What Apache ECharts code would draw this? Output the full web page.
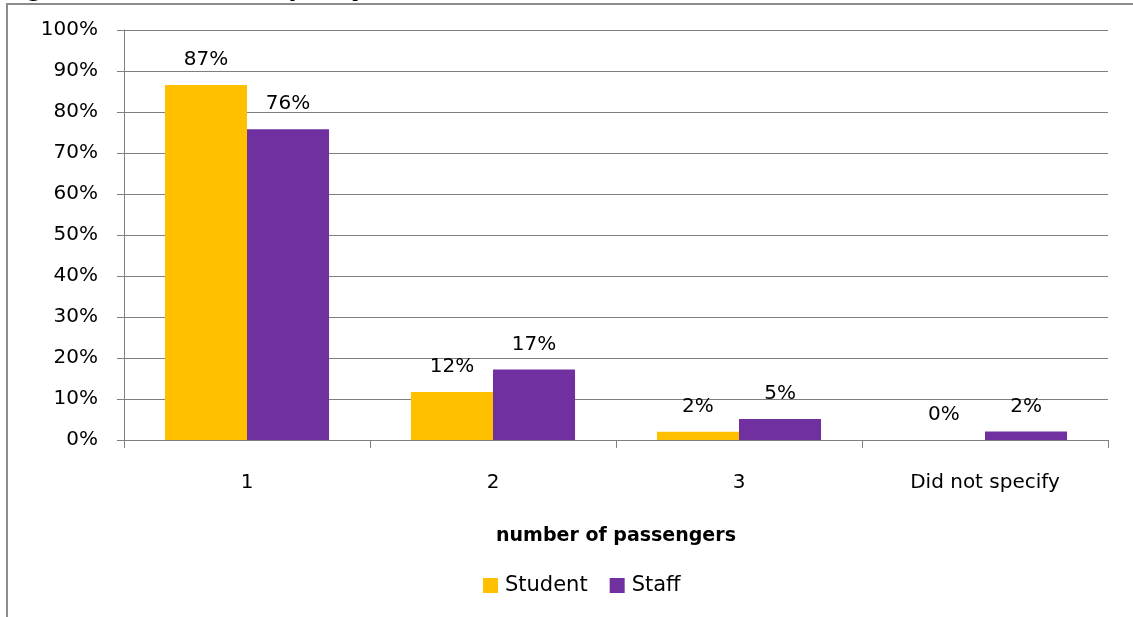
<!DOCTYPE html>
<html>
<head>
<meta charset="utf-8">
<script src="https://cdn.jsdelivr.net/npm/echarts@6/dist/echarts.min.js"></script>
<style>
  html, body { margin: 0; padding: 0; background: #fff; }
  #chart { width: 1133px; height: 617px; }
</style>
</head>
<body>
<div id="chart"></div>
<script>
// Share of trips by number of passengers, students vs staff (percent)
const categories = ['1', '2', '3', 'Did not specify'];
const studentValues = [86.6, 11.7, 2.0, 0];
const staffValues = [75.8, 17.2, 5.1, 2.1];
const seriesNames = ['Student', 'Staff'];
const axisTitle = 'number of passengers';
const chartTitle = 'Figure 9: Vehicle occupancy';

const FONT = '"DejaVu Sans", sans-serif';
const GRID_GRAY = '#7f7f7f';

const chart = echarts.init(document.getElementById('chart'), null, { renderer: 'canvas' });

const barLabel = {
  show: true,
  position: 'top',
  distance: 15,
  color: '#000',
  fontFamily: FONT,
  fontSize: 20,
  formatter: p => Math.round(p.value) + '%'
};

chart.setOption({
  animation: false,
  backgroundColor: '#fff',
  textStyle: { fontFamily: FONT },
  graphic: [
    {
      type: 'rect',
      shape: { x: 7, y: 4, width: 1300, height: 700 },
      style: { fill: 'none', stroke: '#8c8c8c', lineWidth: 2 },
      silent: true,
      z: -1
    },
    {
      type: 'text',
      left: 3,
      top: -21,
      style: {
        text: chartTitle,
        font: 'bold 23px ' + FONT,
        fill: '#000'
      },
      silent: true
    }
  ],
  grid: { left: 124, right: 25, top: 30, bottom: 177, containLabel: false },
  legend: {
    data: seriesNames,
    left: 478,
    top: 570,
    icon: 'rect',
    itemWidth: 15,
    itemHeight: 15,
    itemGap: 22,
    textStyle: { fontFamily: FONT, fontSize: 21, color: '#000', padding: [0, 0, 0, 2] }
  },
  xAxis: {
    type: 'category',
    data: categories,
    name: axisTitle,
    nameLocation: 'middle',
    nameGap: 87,
    nameTextStyle: { fontFamily: FONT, fontSize: 19, fontWeight: 'bold', color: '#000' },
    axisLine: { lineStyle: { color: GRID_GRAY, width: 1 } },
    axisTick: { show: true, length: 8, lineStyle: { color: GRID_GRAY } },
    axisLabel: { margin: 33, fontFamily: FONT, fontSize: 20, color: '#000' }
  },
  yAxis: {
    type: 'value',
    min: 0,
    max: 100,
    interval: 10,
    axisLine: { show: true, lineStyle: { color: GRID_GRAY, width: 1 } },
    axisTick: { show: true, length: 7, lineStyle: { color: GRID_GRAY } },
    splitLine: { show: true, lineStyle: { color: GRID_GRAY, width: 1 } },
    axisLabel: { margin: 26, fontFamily: FONT, fontSize: 20, color: '#000', formatter: '{value}%' }
  },
  series: [
    {
      name: seriesNames[0],
      type: 'bar',
      data: studentValues,
      itemStyle: { color: '#FFC000' },
      barGap: '0%',
      barCategoryGap: '33.3%',
      label: barLabel
    },
    {
      name: seriesNames[1],
      type: 'bar',
      data: staffValues,
      itemStyle: { color: '#7030A0' },
      barGap: '0%',
      barCategoryGap: '33.3%',
      label: barLabel
    }
  ]
});
</script>
</body>
</html>
